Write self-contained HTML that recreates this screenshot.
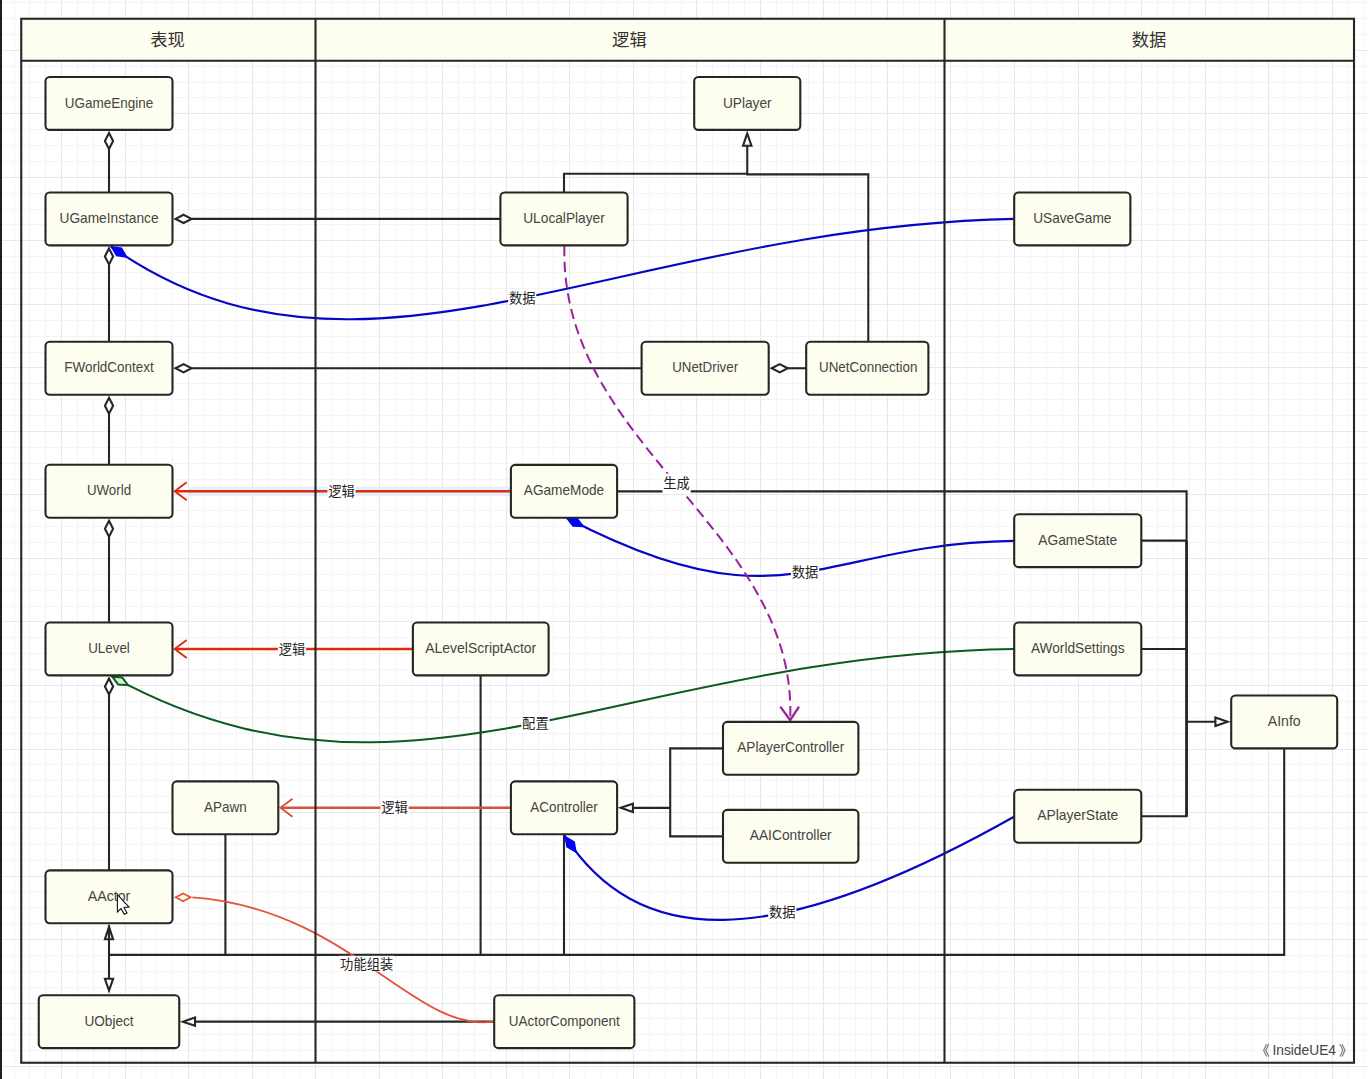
<!DOCTYPE html>
<html><head><meta charset="utf-8"><title>InsideUE4</title>
<style>html,body{margin:0;padding:0;background:#fff;}body{width:1368px;height:1079px;overflow:hidden;}svg{display:block;}text{font-family:"Liberation Sans","Noto Sans CJK SC",sans-serif;}</style></head><body>
<svg width="1368" height="1079" viewBox="0 0 1368 1079">
<rect width="1368" height="1079" fill="#fff"/>
<path d="M14.5 0V1079M29.5 0V1079M45.5 0V1079M77.5 0V1079M93.5 0V1079M109.5 0V1079M141.5 0V1079M156.5 0V1079M172.5 0V1079M204.5 0V1079M220.5 0V1079M236.5 0V1079M268.5 0V1079M284.5 0V1079M299.5 0V1079M331.5 0V1079M347.5 0V1079M363.5 0V1079M395.5 0V1079M411.5 0V1079M426.5 0V1079M458.5 0V1079M474.5 0V1079M490.5 0V1079M522.5 0V1079M538.5 0V1079M553.5 0V1079M585.5 0V1079M601.5 0V1079M617.5 0V1079M649.5 0V1079M665.5 0V1079M681.5 0V1079M712.5 0V1079M728.5 0V1079M744.5 0V1079M776.5 0V1079M792.5 0V1079M808.5 0V1079M839.5 0V1079M855.5 0V1079M871.5 0V1079M903.5 0V1079M919.5 0V1079M935.5 0V1079M966.5 0V1079M982.5 0V1079M998.5 0V1079M1030.5 0V1079M1046.5 0V1079M1062.5 0V1079M1093.5 0V1079M1109.5 0V1079M1125.5 0V1079M1157.5 0V1079M1173.5 0V1079M1189.5 0V1079M1220.5 0V1079M1236.5 0V1079M1252.5 0V1079M1284.5 0V1079M1300.5 0V1079M1316.5 0V1079M1347.5 0V1079M1363.5 0V1079M0 2.5H1368M0 18.5H1368M0 34.5H1368M0 66.5H1368M0 82.5H1368M0 97.5H1368M0 129.5H1368M0 145.5H1368M0 161.5H1368M0 193.5H1368M0 209.5H1368M0 224.5H1368M0 256.5H1368M0 272.5H1368M0 288.5H1368M0 320.5H1368M0 336.5H1368M0 352.5H1368M0 383.5H1368M0 399.5H1368M0 415.5H1368M0 447.5H1368M0 463.5H1368M0 479.5H1368M0 510.5H1368M0 526.5H1368M0 542.5H1368M0 574.5H1368M0 590.5H1368M0 606.5H1368M0 637.5H1368M0 653.5H1368M0 669.5H1368M0 701.5H1368M0 717.5H1368M0 733.5H1368M0 764.5H1368M0 780.5H1368M0 796.5H1368M0 828.5H1368M0 844.5H1368M0 860.5H1368M0 891.5H1368M0 907.5H1368M0 923.5H1368M0 955.5H1368M0 971.5H1368M0 987.5H1368M0 1018.5H1368M0 1034.5H1368M0 1050.5H1368" stroke="#f4f4f4" stroke-width="1" fill="none"/>
<path d="M61.5 0V1079M125.5 0V1079M188.5 0V1079M252.5 0V1079M315.5 0V1079M379.5 0V1079M442.5 0V1079M506.5 0V1079M569.5 0V1079M633.5 0V1079M696.5 0V1079M760.5 0V1079M823.5 0V1079M887.5 0V1079M950.5 0V1079M1014.5 0V1079M1078.5 0V1079M1141.5 0V1079M1205.5 0V1079M1268.5 0V1079M1332.5 0V1079M0 50.5H1368M0 113.5H1368M0 177.5H1368M0 240.5H1368M0 304.5H1368M0 367.5H1368M0 431.5H1368M0 494.5H1368M0 558.5H1368M0 621.5H1368M0 685.5H1368M0 749.5H1368M0 812.5H1368M0 876.5H1368M0 939.5H1368M0 1003.5H1368M0 1066.5H1368" stroke="#e8e8e8" stroke-width="1" fill="none"/>
<rect x="0" y="0" width="2" height="1079" fill="#1e1e1e"/>
<rect x="21.25" y="18.75" width="1332.75" height="42.00" fill="#fdfdf0"/>
<text x="150.20" y="45.97" font-size="17.3px" fill="#33332f">表现</text>
<text x="612.10" y="45.97" font-size="17.3px" fill="#33332f">逻辑</text>
<text x="1131.70" y="45.97" font-size="17.3px" fill="#33332f">数据</text>
<g fill="none" stroke="#262624" stroke-width="2.10" stroke-linejoin="miter">
<path d="M109.00 148.95V192.45"/>
<path d="M109.00 132.95L113.10 140.95L109.00 148.95L104.90 140.95Z" fill="#fff" stroke="#262624"/>
<path d="M109.00 264.40V341.80"/>
<path d="M109.00 248.40L113.10 256.40L109.00 264.40L104.90 256.40Z" fill="#fff" stroke="#262624"/>
<path d="M109.00 413.75V464.80"/>
<path d="M109.00 397.75L113.10 405.75L109.00 413.75L104.90 405.75Z" fill="#fff" stroke="#262624"/>
<path d="M109.00 536.75V622.50"/>
<path d="M109.00 520.75L113.10 528.75L109.00 536.75L104.90 528.75Z" fill="#fff" stroke="#262624"/>
<path d="M109.00 694.45V870.40"/>
<path d="M109.00 678.45L113.10 686.45L109.00 694.45L104.90 686.45Z" fill="#fff" stroke="#262624"/>
<path d="M191.55 218.90H500.40"/>
<path d="M175.55 218.90L183.55 214.80L191.55 218.90L183.55 223.00Z" fill="#fff" stroke="#262624"/>
<path d="M191.55 368.25H641.60"/>
<path d="M175.55 368.25L183.55 364.15L191.55 368.25L183.55 372.35Z" fill="#fff" stroke="#262624"/>
<path d="M787.75 368.25H806.20"/>
<path d="M771.75 368.25L779.75 364.15L787.75 368.25L779.75 372.35Z" fill="#fff" stroke="#262624"/>
<path d="M747.25 145.70V174.1 M564.00 192.45V173.7H747.25 M746.25 174.4H868.3V341.80"/>
<path d="M747.25 133.50L751.45 145.70L743.05 145.70Z" fill="#fff"/>
<path d="M617.10 491.35H1186.6V721.75 M1141.30 540.65H1186.6 M1141.30 648.95H1186.6 M1141.30 816.25H1186.6V721.75 M1186.6 721.75H1215.4"/>
<path d="M1227.60 721.75L1215.40 717.55L1215.40 725.95Z" fill="#fff"/>
<path d="M1186.6 540.65V816.25" stroke-width="2.7"/>
<path d="M632.90 807.85H670.2 M723.00 748.35H670.2V836.35H723.00"/>
<path d="M620.70 807.85L632.90 803.65L632.90 812.05Z" fill="#fff"/>
<path d="M109.00 954.90H1284.20V748.40 M225.40 834.30V954.90 M480.60 675.40V954.90 M564.00 834.30V954.90"/>
<path d="M109.00 926.90L113.10 939.30L104.90 939.30Z" fill="#fff"/>
<path d="M109.00 925.30V978.60"/>
<path d="M109.00 990.60L113.10 978.80L104.90 978.80Z" fill="#fff"/>
<path d="M195.05 1021.65H494.20"/>
<path d="M182.85 1021.65L195.05 1017.45L195.05 1025.85Z" fill="#fff"/>
</g>
<path d="M188.70 491.35H510.90" stroke="#e1f0fb" stroke-width="9.4" fill="none"/>
<path d="M510.90 491.35H176.20" fill="none" stroke="#df2a0c" stroke-width="2.5"/>
<path d="M186.70 482.35L174.70 491.35L186.70 500.35" fill="none" stroke="#df2a0c" stroke-width="1.9" stroke-linejoin="miter"/>
<path d="M412.90 648.90H176.20" fill="none" stroke="#df2a0c" stroke-width="2.5"/>
<path d="M186.70 639.90L174.70 648.90L186.70 657.90" fill="none" stroke="#df2a0c" stroke-width="1.9" stroke-linejoin="miter"/>
<path d="M510.90 807.75H282.00" fill="none" stroke="#d6533b" stroke-width="2.5"/>
<path d="M292.50 798.75L280.50 807.75L292.50 816.75" fill="none" stroke="#d6533b" stroke-width="1.9" stroke-linejoin="miter"/>
<rect x="327.40" y="482.00" width="28.20" height="17.20" fill="#fff"/>
<text x="328.20" y="495.65" font-size="13.3px" fill="#222222">逻辑</text>
<rect x="277.90" y="640.00" width="28.20" height="17.20" fill="#fff"/>
<text x="278.70" y="653.65" font-size="13.3px" fill="#222222">逻辑</text>
<rect x="380.50" y="798.80" width="28.20" height="17.20" fill="#fff"/>
<text x="381.30" y="812.45" font-size="13.3px" fill="#222222">逻辑</text>
<path d="M192.40 897.40C350.20 908.80 412.70 1033.20 494.00 1021.70" fill="none" stroke="#e4523d" stroke-width="1.85"/>
<path d="M175.70 897.30L183.10 901.20L190.50 897.30L183.10 893.40Z" fill="#fefee9" stroke="#e4523d" stroke-width="1.8"/>
<rect x="339.30" y="955.80" width="54.80" height="15.60" fill="#fff"/>
<text x="340.10" y="968.65" font-size="13.3px" fill="#222222">功能组装</text>
<path d="M111.20 676.20C403.20 837.10 623.20 654.40 1014.00 648.90" fill="none" stroke="#0c5a20" stroke-width="2.05"/>
<path d="M112.43 676.86L118.27 684.62L127.96 685.15L122.13 677.39Z" fill="#cdf6cf" stroke="#0c5a20" stroke-width="2.0"/>
<rect x="521.30" y="714.00" width="28.20" height="17.20" fill="#fff"/>
<text x="522.10" y="727.65" font-size="13.3px" fill="#222222">配置</text>
<path d="M111.00 246.50C359.40 421.20 613.20 227.70 1014.00 218.90" fill="none" stroke="#0606c4" stroke-width="2.15"/>
<path d="M111.99 247.17L116.74 255.33L126.07 256.70L121.33 248.54Z" fill="#0000ff" stroke="#0000ff" stroke-width="2.0"/>
<rect x="508.10" y="289.00" width="28.20" height="17.20" fill="#fff"/>
<text x="508.90" y="302.65" font-size="13.3px" fill="#222222">数据</text>
<path d="M566.00 517.50C785.20 632.10 817.80 543.20 1014.00 540.90" fill="none" stroke="#0606c4" stroke-width="2.15"/>
<path d="M567.25 518.14L573.12 525.75L582.73 526.07L576.86 518.45Z" fill="#0000ff" stroke="#0000ff" stroke-width="2.0"/>
<rect x="790.90" y="563.20" width="28.20" height="17.20" fill="#fff"/>
<text x="791.70" y="576.85" font-size="13.3px" fill="#222222">数据</text>
<path d="M564.20 835.20C635.90 946.20 766.40 956.20 1014.00 816.70" fill="none" stroke="#0606c4" stroke-width="2.15"/>
<path d="M565.57 837.17L567.22 846.74L575.61 851.63L573.96 842.06Z" fill="#0000ff" stroke="#0000ff" stroke-width="2.0"/>
<rect x="768.20" y="903.40" width="28.20" height="17.20" fill="#fff"/>
<text x="769.00" y="917.05" font-size="13.3px" fill="#222222">数据</text>
<path d="M564.40 245.80C559.30 446.40 797.20 528.70 790.20 719.00" fill="none" stroke="#9a1f9c" stroke-width="2.00" stroke-dasharray="10.4 5.5"/>
<path d="M780.3 706.6L790.2 720.2L799.0 706.6" fill="none" stroke="#9a1f9c" stroke-width="2.3"/>
<rect x="662.50" y="473.50" width="28.20" height="19.60" fill="#fff"/>
<text x="663.30" y="488.35" font-size="13.3px" fill="#222222">生成</text>
<g fill="none" stroke="#262624" stroke-width="2.10">
<rect x="21.25" y="18.75" width="1332.75" height="1044.00"/>
<path d="M21.25 60.75H1354.00 M315.5 18.75V1062.75 M944.5 18.75V1062.75"/>
</g>
<g fill="#fdfdf0" stroke="#262624" stroke-width="2.10">
<rect x="45.50" y="77.00" width="127.00" height="52.90" rx="4.2" ry="4.2"/>
<rect x="45.50" y="192.45" width="127.00" height="52.90" rx="4.2" ry="4.2"/>
<rect x="45.50" y="341.80" width="127.00" height="52.90" rx="4.2" ry="4.2"/>
<rect x="45.50" y="464.80" width="127.00" height="52.90" rx="4.2" ry="4.2"/>
<rect x="45.50" y="622.50" width="127.00" height="52.90" rx="4.2" ry="4.2"/>
<rect x="45.50" y="870.40" width="127.00" height="52.90" rx="4.2" ry="4.2"/>
<rect x="38.75" y="995.20" width="140.50" height="52.90" rx="4.2" ry="4.2"/>
<rect x="172.50" y="781.40" width="105.80" height="52.90" rx="4.2" ry="4.2"/>
<rect x="694.20" y="77.00" width="106.10" height="52.90" rx="4.2" ry="4.2"/>
<rect x="500.40" y="192.45" width="127.20" height="52.90" rx="4.2" ry="4.2"/>
<rect x="641.60" y="341.80" width="127.10" height="52.90" rx="4.2" ry="4.2"/>
<rect x="806.20" y="341.80" width="122.20" height="52.90" rx="4.2" ry="4.2"/>
<rect x="510.90" y="464.90" width="106.20" height="52.90" rx="4.2" ry="4.2"/>
<rect x="412.90" y="622.50" width="135.70" height="52.90" rx="4.2" ry="4.2"/>
<rect x="723.00" y="721.90" width="135.40" height="52.90" rx="4.2" ry="4.2"/>
<rect x="510.90" y="781.40" width="106.20" height="52.90" rx="4.2" ry="4.2"/>
<rect x="723.00" y="809.90" width="135.40" height="52.90" rx="4.2" ry="4.2"/>
<rect x="494.20" y="995.20" width="140.20" height="52.90" rx="4.2" ry="4.2"/>
<rect x="1014.20" y="192.45" width="116.20" height="52.90" rx="4.2" ry="4.2"/>
<rect x="1014.20" y="514.20" width="127.10" height="52.90" rx="4.2" ry="4.2"/>
<rect x="1014.20" y="622.50" width="127.10" height="52.90" rx="4.2" ry="4.2"/>
<rect x="1014.20" y="789.80" width="127.10" height="52.90" rx="4.2" ry="4.2"/>
<rect x="1231.20" y="695.50" width="106.00" height="52.90" rx="4.2" ry="4.2"/>
</g>
<g fill="#45453f" font-size="13.50px" text-anchor="middle">
<text transform="translate(109.00 107.55) scale(1 1.150)">UGameEngine</text>
<text transform="translate(109.00 223.00) scale(1 1.150)" textLength="99.0" lengthAdjust="spacingAndGlyphs">UGameInstance</text>
<text transform="translate(109.00 372.35) scale(1 1.150)">FWorldContext</text>
<text transform="translate(109.00 495.35) scale(1 1.150)" textLength="44.2" lengthAdjust="spacingAndGlyphs">UWorld</text>
<text transform="translate(109.00 653.05) scale(1 1.150)" textLength="41.6" lengthAdjust="spacingAndGlyphs">ULevel</text>
<text transform="translate(109.00 900.95) scale(1 1.150)" textLength="42.6" lengthAdjust="spacingAndGlyphs">AActor</text>
<text transform="translate(109.00 1025.75) scale(1 1.150)" textLength="49.2" lengthAdjust="spacingAndGlyphs">UObject</text>
<text transform="translate(225.40 811.95) scale(1 1.150)">APawn</text>
<text transform="translate(747.25 107.55) scale(1 1.150)" textLength="48.7" lengthAdjust="spacingAndGlyphs">UPlayer</text>
<text transform="translate(564.00 223.00) scale(1 1.150)" textLength="81.6" lengthAdjust="spacingAndGlyphs">ULocalPlayer</text>
<text transform="translate(705.15 372.35) scale(1 1.150)" textLength="65.9" lengthAdjust="spacingAndGlyphs">UNetDriver</text>
<text transform="translate(868.20 372.35) scale(1 1.150)" textLength="98.4" lengthAdjust="spacingAndGlyphs">UNetConnection</text>
<text transform="translate(564.00 495.45) scale(1 1.150)" textLength="80.4" lengthAdjust="spacingAndGlyphs">AGameMode</text>
<text transform="translate(480.75 653.05) scale(1 1.150)" textLength="111.0" lengthAdjust="spacingAndGlyphs">ALevelScriptActor</text>
<text transform="translate(790.70 752.45) scale(1 1.150)" textLength="107.0" lengthAdjust="spacingAndGlyphs">APlayerController</text>
<text transform="translate(564.00 811.95) scale(1 1.150)">AController</text>
<text transform="translate(790.70 840.45) scale(1 1.150)" textLength="82.0" lengthAdjust="spacingAndGlyphs">AAIController</text>
<text transform="translate(564.30 1025.75) scale(1 1.150)">UActorComponent</text>
<text transform="translate(1072.30 223.00) scale(1 1.150)" textLength="78.2" lengthAdjust="spacingAndGlyphs">USaveGame</text>
<text transform="translate(1077.75 544.75) scale(1 1.150)" textLength="79.0" lengthAdjust="spacingAndGlyphs">AGameState</text>
<text transform="translate(1077.75 653.05) scale(1 1.150)" textLength="93.7" lengthAdjust="spacingAndGlyphs">AWorldSettings</text>
<text transform="translate(1077.75 820.35) scale(1 1.150)" textLength="81.2" lengthAdjust="spacingAndGlyphs">APlayerState</text>
<text transform="translate(1284.20 726.05) scale(1 1.150)" textLength="32.8" lengthAdjust="spacingAndGlyphs">AInfo</text>
</g>
<text transform="translate(1304.2 1054.9) scale(1 1.150)" font-size="13.50px" text-anchor="middle" textLength="63.6" lengthAdjust="spacingAndGlyphs" fill="#45453f">InsideUE4</text>
<text x="1256.00" y="1055.00" font-size="13.6px" fill="#45453f">《</text>
<text x="1338.90" y="1055.00" font-size="13.6px" fill="#45453f">》</text>
<path d="M117.4 894.6V911.9L121.0 908.6L124.3 914.2L127.0 912.9L124.0 907.5L129.0 907.0Z" fill="#fff" stroke="#111" stroke-width="1.1" stroke-linejoin="miter"/>
</svg></body></html>
